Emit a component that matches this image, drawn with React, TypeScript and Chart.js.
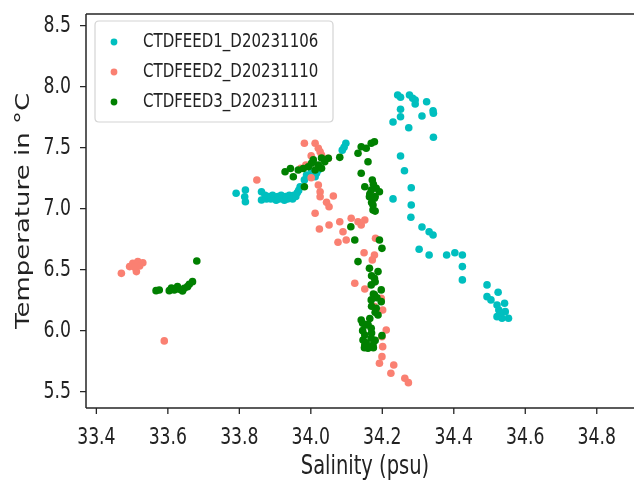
import React, { useEffect, useRef } from "react";
import { Chart, registerables } from "chart.js";

Chart.register(...registerables);

// ---- Data ----
const seriesNames = ["CTDFEED1_D20231106", "CTDFEED2_D20231110", "CTDFEED3_D20231111"];
const seriesColors = ["#00bfbf", "#fa8072", "#008000"];

const feed1Salinity = [
  33.791, 33.817, 33.815, 33.817, 33.862, 33.862,
  33.872, 33.876, 33.882, 33.888, 33.893, 33.898, 33.903, 33.908, 33.912, 33.917, 33.921,
  33.926, 33.930, 33.935, 33.940, 33.944, 33.949, 33.953, 33.958, 33.962, 33.966,
  33.970, 33.982, 33.988, 34.002, 34.012, 34.016, 34.021,
  34.088, 34.093, 34.098,
  34.243, 34.251, 34.276, 34.285, 34.292, 34.292, 34.324, 34.251, 34.251, 34.230, 34.311,
  34.342, 34.343, 34.274, 34.343, 34.251, 34.262, 34.281, 34.230, 34.281, 34.280, 34.311,
  34.331, 34.342, 34.303, 34.331, 34.380, 34.403, 34.424, 34.424, 34.424, 34.493, 34.524,
  34.493, 34.504, 34.521, 34.542, 34.526, 34.544, 34.521, 34.535, 34.553, 34.530,
];
const feed1Temperature = [
  7.126, 7.153, 7.098, 7.057, 7.139, 7.071,
  7.11, 7.08, 7.10, 7.08, 7.11, 7.09, 7.07, 7.10, 7.08, 7.11, 7.09,
  7.07, 7.10, 7.08, 7.11, 7.09, 7.08, 7.11, 7.10, 7.13, 7.15,
  7.18, 7.236, 7.276, 7.303, 7.262, 7.29, 7.317,
  7.48, 7.503, 7.536,
  7.932, 7.913, 7.932, 7.905, 7.891, 7.858, 7.877, 7.815, 7.754, 7.711, 7.760,
  7.803, 7.782, 7.664, 7.585, 7.432, 7.311, 7.172, 7.080, 7.030, 6.930, 6.850,
  6.811, 6.784, 6.667, 6.620, 6.620, 6.639, 6.620, 6.525, 6.416, 6.375, 6.315,
  6.279, 6.252, 6.211, 6.225, 6.170, 6.156, 6.115, 6.102, 6.102, 6.143,
];

const feed2Salinity = [
  33.982, 34.012, 34.021, 34.030, 34.001, 34.049, 33.986, 33.972, 34.001, 34.021, 34.026,
  34.026, 33.849, 34.063, 34.044, 34.051, 34.012, 34.024, 34.051, 34.081, 34.090, 34.113,
  34.132, 34.141, 34.151, 34.076, 34.099, 34.181, 34.149, 34.172, 34.123, 34.151, 34.197,
  34.178, 34.201, 34.211, 34.199, 34.201, 34.199, 34.192, 34.232, 34.224, 34.263, 34.273,
  34.178, 34.026,
  33.470, 33.493, 33.502, 33.516, 33.530, 33.512, 33.521, 33.507, 33.590,
];
const feed2Temperature = [
  7.536, 7.536, 7.495, 7.440, 7.434, 7.413, 7.358, 7.331, 7.254, 7.194, 7.139,
  7.098, 7.235, 7.104, 7.052, 7.016, 6.962, 6.834, 6.866, 6.893, 6.811, 6.921,
  6.893, 6.866, 6.907, 6.725, 6.743, 6.757, 6.639, 6.580, 6.389, 6.342, 6.266,
  6.197, 6.170, 6.006, 5.951, 5.869, 5.787, 5.733, 5.719, 5.651, 5.610, 5.574,
  6.620, 7.467,
  6.470, 6.525, 6.552, 6.566, 6.557, 6.484, 6.530, 6.520, 5.916,
];

const feed3Salinity = [
  33.567, 33.576, 33.604, 33.610, 33.618, 33.627, 33.632, 33.641, 33.646, 33.655, 33.660, 33.669, 33.681,
  33.928, 33.943, 33.951, 33.965, 33.979, 33.982, 33.993, 34.002, 34.007, 34.012, 34.021, 34.030, 34.030,
  34.039, 34.049, 34.081,
  34.132, 34.141, 34.155, 34.169, 34.178, 34.160, 34.141, 34.172, 34.151, 34.169, 34.183, 34.192, 34.164,
  34.178, 34.174, 34.174, 34.170, 34.180, 34.165, 34.175, 34.180,
  34.112, 34.123, 34.192, 34.199, 34.132, 34.164, 34.188, 34.178, 34.169, 34.197, 34.178, 34.169, 34.197,
  34.183, 34.188, 34.170, 34.180, 34.175, 34.185, 34.170, 34.180,
  34.141, 34.155, 34.169, 34.151, 34.169, 34.151, 34.174, 34.199, 34.160, 34.146, 34.145, 34.160, 34.170,
  34.155, 34.175, 34.150, 34.165, 34.180, 34.145, 34.170,
];
const feed3Temperature = [
  6.328, 6.333, 6.328, 6.350, 6.334, 6.361, 6.339, 6.325, 6.348, 6.361, 6.380, 6.402, 6.571,
  7.303, 7.330, 7.262, 7.317, 7.330, 7.180, 7.344, 7.372, 7.400, 7.317, 7.358, 7.331, 7.415,
  7.385, 7.413, 7.421,
  7.454, 7.508, 7.495, 7.536, 7.549, 7.385, 7.290, 7.235, 7.180, 7.153, 7.167, 7.139, 7.098,
  7.085, 7.030, 6.990, 7.050, 7.100, 7.120, 7.200, 6.980,
  6.852, 6.743, 6.743, 6.675, 6.566, 6.511, 6.484, 6.430, 6.375, 6.334, 6.293, 6.252, 6.238,
  6.184, 6.129, 6.450, 6.400, 6.300, 6.270, 6.200, 6.150,
  6.088, 6.047, 6.020, 5.965, 5.938, 5.883, 5.883, 5.959, 5.856, 5.924, 6.000, 6.050, 5.980,
  5.900, 5.860, 5.860, 6.100, 5.920, 6.060, 5.870,
];

const xAxisTitle = "Salinity (psu)";
const yAxisTitle = "Temperature in °C";
const xRange = [33.371, 34.893];
const yRange = [5.366, 8.596];
const xStep = 0.2;
const yStep = 0.5;

// ---- Styling ----
const FONT = '"DejaVu Sans", "Liberation Sans", sans-serif';
const SQUEEZE = 0.75;
const TEXT_COLOR = "#222222";

function toPoints(xs: number[], ys: number[]) {
  return xs.map((x, i) => ({ x, y: ys[i] }));
}

function drawText(
  ctx: CanvasRenderingContext2D,
  text: string,
  x: number,
  y: number,
  size: number,
  align: CanvasTextAlign,
  rotate = false
) {
  ctx.save();
  ctx.translate(x, y);
  if (rotate) {
    ctx.rotate(-Math.PI / 2);
    ctx.scale(1, SQUEEZE);
  } else {
    ctx.scale(SQUEEZE, 1);
  }
  ctx.font = `${size}px ${FONT}`;
  ctx.fillStyle = TEXT_COLOR;
  ctx.textAlign = align;
  ctx.textBaseline = "middle";
  ctx.fillText(text, 0, 0);
  ctx.restore();
}

const framePlugin = {
  id: "framePlugin",
  afterDraw(chart: any) {
    const { ctx, chartArea } = chart;
    const xs = chart.scales.x;
    const ys = chart.scales.y;
    const { left, top, bottom } = chartArea;
    const right = chart.width;
    ctx.save();
    // spines
    ctx.strokeStyle = "#262626";
    ctx.lineWidth = 1.5;
    ctx.beginPath();
    ctx.moveTo(left, top);
    ctx.lineTo(right, top);
    ctx.moveTo(left, top);
    ctx.lineTo(left, bottom);
    ctx.moveTo(left, bottom);
    ctx.lineTo(right, bottom);
    ctx.stroke();
    // ticks
    ctx.lineWidth = 1.3;
    ctx.beginPath();
    xs.ticks.forEach((t: any) => {
      const px = xs.getPixelForValue(t.value);
      ctx.moveTo(px, bottom);
      ctx.lineTo(px, bottom + 6);
    });
    ys.ticks.forEach((t: any) => {
      const py = ys.getPixelForValue(t.value);
      ctx.moveTo(left - 6, py);
      ctx.lineTo(left, py);
    });
    ctx.stroke();
    xs.ticks.forEach((t: any) => {
      const px = xs.getPixelForValue(t.value);
      drawText(ctx, Number(t.value).toFixed(1), px, bottom + 30, 23, "center");
    });
    ys.ticks.forEach((t: any) => {
      const py = ys.getPixelForValue(t.value);
      drawText(ctx, Number(t.value).toFixed(1), left - 15, py, 23, "right");
    });
    // axis titles
    drawText(ctx, xAxisTitle, 365, 467, 26, "center");
    drawText(ctx, yAxisTitle, 24, (top + bottom) / 2, 26, "center", true);

    // legend
    const lx = 95, ly = 21, lw = 238, lh = 101, r = 4;
    ctx.beginPath();
    ctx.moveTo(lx + r, ly);
    ctx.lineTo(lx + lw - r, ly);
    ctx.quadraticCurveTo(lx + lw, ly, lx + lw, ly + r);
    ctx.lineTo(lx + lw, ly + lh - r);
    ctx.quadraticCurveTo(lx + lw, ly + lh, lx + lw - r, ly + lh);
    ctx.lineTo(lx + r, ly + lh);
    ctx.quadraticCurveTo(lx, ly + lh, lx, ly + lh - r);
    ctx.lineTo(lx, ly + r);
    ctx.quadraticCurveTo(lx, ly, lx + r, ly);
    ctx.closePath();
    ctx.fillStyle = "rgba(255,255,255,0.8)";
    ctx.fill();
    ctx.strokeStyle = "#d4d4d4";
    ctx.lineWidth = 1.2;
    ctx.stroke();
    const rowY = [42, 72, 102];
    seriesNames.forEach((name, i) => {
      ctx.beginPath();
      ctx.fillStyle = seriesColors[i];
      ctx.arc(114, rowY[i], 3.4, 0, Math.PI * 2);
      ctx.fill();
      drawText(ctx, name, 143, rowY[i], 20, "left");
    });
    ctx.restore();
  },
};

export default function App() {
  const canvasRef = useRef<HTMLCanvasElement | null>(null);

  useEffect(() => {
    if (!canvasRef.current) return;
    const chart = new Chart(canvasRef.current, {
      type: "scatter",
      data: {
        datasets: [
          {
            label: seriesNames[0],
            data: toPoints(feed1Salinity, feed1Temperature),
            backgroundColor: seriesColors[0],
            borderWidth: 0,
            pointRadius: 3.8,
            order: 3,
          },
          {
            label: seriesNames[1],
            data: toPoints(feed2Salinity, feed2Temperature),
            backgroundColor: seriesColors[1],
            borderWidth: 0,
            pointRadius: 3.8,
            order: 2,
          },
          {
            label: seriesNames[2],
            data: toPoints(feed3Salinity, feed3Temperature),
            backgroundColor: seriesColors[2],
            borderWidth: 0,
            pointRadius: 3.8,
            order: 1,
          },
        ],
      },
      options: {
        animation: false,
        responsive: false,
        maintainAspectRatio: false,
        devicePixelRatio: 1,
        events: [],
        layout: { padding: { top: 14, left: 0, right: 0, bottom: 0 } },
        plugins: {
          legend: { display: false },
          tooltip: { enabled: false },
          title: { display: false },
        },
        scales: {
          x: {
            type: "linear",
            min: xRange[0],
            max: xRange[1],
            grid: { display: false },
            border: { display: false },
            ticks: { display: false, stepSize: xStep, includeBounds: false },
            afterFit: (s: any) => {
              s.height = 81;
            },
          },
          y: {
            type: "linear",
            min: yRange[0],
            max: yRange[1],
            grid: { display: false },
            border: { display: false },
            ticks: { display: false, stepSize: yStep, includeBounds: false },
            afterFit: (s: any) => {
              s.width = 86;
            },
          },
        },
      },
      plugins: [framePlugin],
    });
    return () => chart.destroy();
  }, []);

  return (
    <div style={{ position: "absolute", left: 0, top: 0, width: 634, height: 489, overflow: "hidden", background: "#fff" }}>
      <canvas ref={canvasRef} width={634} height={489} style={{ display: "block" }} />
    </div>
  );
}
